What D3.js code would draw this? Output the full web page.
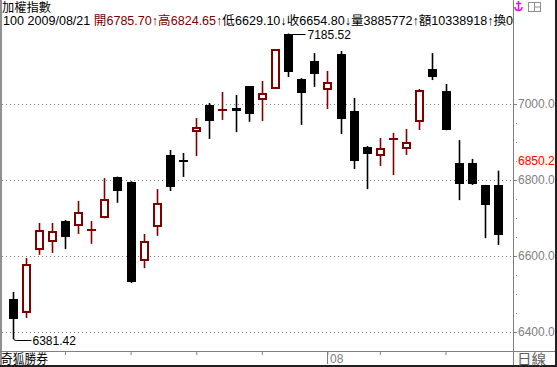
<!DOCTYPE html>
<html><head><meta charset="utf-8">
<script src="https://cdn.jsdelivr.net/npm/d3@7"></script>
<style>body{margin:0;background:#fff}svg{display:block}</style></head>
<body>
<script>
// ---- data ----
const opens  = [6486.8,6450,6616,6637,6692,6679,6667,6700,6808,6795,6587,6676,6866,6851,6926,6997,6983,6989.5,7047,7010.5,7039.5,7185.52,7066,7113,7037,7131.6,6981.6,6887,6863,6907,6881.6,6952.6,7092,7034,6845,6845,6787,6785.70];
const closes = [6434.2,6579,6668,6666,6650,6716,6669,6750,6771,6532,6639.5,6739.5,6782,6849,6939.5,6955,6985,6981.6,6974,7029,7144.7,7084,7029,7079,7058,6960.5,6850,6868,6884,6909,6900,7037,7071,6931.6,6789.5,6789.5,6734,6654.80];
const highs  = [6505.3,6595,6687,6687,6695,6745,6692,6805,6809,6797,6658,6776,6879,6871,6963,7002.6,7031.6,7023.7,7047,7060.5,7144.7,7185.52,7068,7134,7087,7139.5,7016,6889.5,6910.5,6924,6934,7039.5,7134,7052.6,6905,6855.5,6787,6824.65];
const lows   = [6381.42,6437,6603,6608,6618,6658,6632,6699,6740,6529,6568,6653,6771,6808,6863,6908,6958,6926,6953,6955,7039.5,7071,6945,7045,6987,6921,6829,6776,6837,6813,6866,6931.6,7063,6931,6747,6787,6647,6629.10];
const yMajorTicks = [6400,6600,6800,7000];
const yMinorStep = 50;
const xTickIdx = [4,9,14,19,24,28,33];
const monthLabel = {24:"08"};
const volume = "3885772", amount = "10338918", turnover = "0";
const title = "加權指數", footer = "奇狐勝券", period = "日線";
const dateStr = "100 2009/08/21 ";
const cursorValue = 6850.2;

const W=557,H=367;
const RED="#800000", GRID="#808080";
const svg=d3.select("body").append("svg").attr("width",W).attr("height",H)
  .style("font-family","'Liberation Sans','Noto Sans CJK TC',sans-serif");

const x=d3.scalePoint().domain(d3.range(opens.length)).range([12.5,498]);
const y=d3.scaleLinear().domain([6400,7000]).range([332,104]);
const AX=513, BOT=351;

// frame
svg.append("rect").attr("x",0).attr("y",0).attr("width",2).attr("height",366).attr("fill","#909090");
svg.append("line").attr("x1",AX+0.5).attr("x2",AX+0.5).attr("y1",0).attr("y2",366).attr("stroke",GRID);
svg.append("line").attr("x1",0).attr("x2",556).attr("y1",BOT+0.5).attr("y2",BOT+0.5).attr("stroke",GRID);
svg.append("rect").attr("x",555).attr("y",0).attr("width",2).attr("height",367).attr("fill","#202020");
svg.append("rect").attr("x",0).attr("y",365).attr("width",557).attr("height",2).attr("fill","#202020");

// grid
svg.append("g").selectAll("line").data(yMajorTicks).join("line")
  .attr("x1",2).attr("x2",AX).attr("y1",d=>Math.round(y(d))+0.5).attr("y2",d=>Math.round(y(d))+0.5)
  .attr("stroke",GRID).attr("stroke-dasharray","1,3");

// right axis
const yAxis=d3.axisRight(y).tickValues(yMajorTicks).tickSize(4).tickPadding(1).tickFormat(d3.format(".1f"));
const ga=svg.append("g").attr("transform",`translate(${AX},0)`).call(yAxis);
ga.select(".domain").remove();
ga.selectAll("line").attr("stroke",GRID);
ga.selectAll("text").attr("fill",GRID).style("font-size","12px").style("font-family","'Liberation Sans',sans-serif");
const minor=d3.range(6400,7001,yMinorStep).filter(v=>!yMajorTicks.includes(v));
svg.append("g").selectAll("rect").data(minor).join("rect")
  .attr("x",AX+3).attr("y",d=>Math.round(y(d))).attr("width",1).attr("height",1).attr("fill",GRID);

// cursor value label
svg.append("rect").attr("x",AX+4).attr("y",Math.round(y(cursorValue))-7).attr("width",38).attr("height",13).attr("fill","#fff8ec");
svg.append("text").attr("x",AX+5).attr("y",y(cursorValue)).attr("dy","0.36em")
  .attr("fill","#ff0000").style("font-size","12px").text(d3.format(".1f")(cursorValue));

// bottom axis
const xAxis=d3.axisBottom(x).tickValues(xTickIdx).tickSize(4).tickFormat("");
const gb=svg.append("g").attr("transform",`translate(0,${BOT})`).call(xAxis);
gb.select(".domain").remove();
gb.selectAll("line").attr("stroke",GRID);
Object.keys(monthLabel).forEach(k=>{
  const cx=Math.round(x(+k))+0.5;
  svg.append("line").attr("x1",cx).attr("x2",cx).attr("y1",BOT).attr("y2",BOT+13).attr("stroke",GRID);
  svg.append("text").attr("x",cx+2.5).attr("y",BOT+12).attr("fill",GRID).style("font-size","12px").text(monthLabel[k]);
});
svg.append("text").attr("x",1).attr("y",BOT+12).attr("fill","#000").style("font-size","13px")
  .attr("textLength",47).attr("lengthAdjust","spacingAndGlyphs").text(footer);
svg.append("text").attr("x",517).attr("y",BOT+12.5).attr("fill","#606060").style("font-size","14px")
  .attr("textLength",29).attr("lengthAdjust","spacingAndGlyphs").text(period);

// candles
const data=opens.map((o,i)=>({i,o,c:closes[i],h:highs[i],l:lows[i]}));
const g=svg.append("g");
data.forEach(d=>{
  const cx=Math.round(x(d.i));
  const up=d.c>=d.o;
  const col=up?RED:"#000";
  const top=Math.round(y(Math.max(d.o,d.c))), bot=Math.round(y(Math.min(d.o,d.c)));
  g.append("line").attr("x1",cx+0.5).attr("x2",cx+0.5).attr("y1",y(d.h)).attr("y2",y(d.l))
    .attr("stroke",col).attr("stroke-width",1.6);
  if(bot-top<2){
    g.append("rect").attr("x",cx-4).attr("y",Math.round((y(d.o)+y(d.c))/2)-1).attr("width",9).attr("height",2).attr("fill",col);
  } else if(up){
    g.append("rect").attr("x",cx-3).attr("y",top+1).attr("width",7).attr("height",Math.max(0,bot-top-2))
      .attr("fill","#fff").attr("stroke",RED).attr("stroke-width",2);
  } else {
    g.append("rect").attr("x",cx-4).attr("y",top).attr("width",9).attr("height",bot-top).attr("fill","#000");
  }
});

// max / min annotations
const iMax=d3.maxIndex(highs), iMin=d3.minIndex(lows);
{
  const cx=Math.round(x(iMax))+0.5, yy=Math.round(y(highs[iMax]))+0.5;
  svg.append("line").attr("x1",cx).attr("x2",cx+17).attr("y1",yy).attr("y2",yy).attr("stroke","#000");
  svg.append("text").attr("x",cx+19).attr("y",yy+4).style("font-size","12px").attr("fill","#000").text(d3.format(".2f")(highs[iMax]));
}
{
  const cx=Math.round(x(iMin))+0.5, yy=Math.round(y(lows[iMin]))+1.5;
  svg.append("path").attr("d",`M${cx},${yy-2}Q${cx},${yy} ${cx+3},${yy}L${cx+18},${yy}`).attr("fill","none").attr("stroke","#000");
  svg.append("text").attr("x",cx+19).attr("y",yy+4).style("font-size","12px").attr("fill","#000").text(d3.format(".2f")(lows[iMin]));
}

// header
svg.append("text").attr("x",2).attr("y",12).style("font-size","12px").attr("fill","#000")
  .attr("textLength",49).attr("lengthAdjust","spacingAndGlyphs").text(title);
const L=opens.length-1, f2=d3.format(".2f");
const ht=svg.append("text").attr("x",3).attr("y",25).style("font-size","12.5px")
  .attr("textLength",510).attr("lengthAdjust","spacingAndGlyphs");
ht.append("tspan").attr("fill","#000").text(dateStr);
ht.append("tspan").attr("fill",RED).text(`開${f2(opens[L])}↑高${f2(highs[L])}↑`);
ht.append("tspan").attr("fill","#000").text(`低${f2(lows[L])}↓收${f2(closes[L])}↓量${volume}↑額${amount}↑換${turnover}`);

// icons top-right
const ic=svg.append("g").attr("stroke","#ff00ff").attr("fill","none").attr("stroke-width",1.5);
ic.append("line").attr("x1",518.5).attr("x2",518.5).attr("y1",1).attr("y2",10);
ic.append("line").attr("x1",516).attr("x2",521).attr("y1",3.5).attr("y2",3.5);
ic.append("path").attr("d","M515,7 Q515,10.5 518.5,10.5 Q522,10.5 522,7");
const wi=svg.append("g").attr("stroke","#909090").attr("fill","none");
wi.append("rect").attr("x",528.5).attr("y",2.5).attr("width",12).attr("height",9);
wi.append("line").attr("x1",534.5).attr("x2",534.5).attr("y1",2.5).attr("y2",11.5);
wi.append("line").attr("x1",534.5).attr("x2",540.5).attr("y1",7).attr("y2",7);
</script>
</body></html>
